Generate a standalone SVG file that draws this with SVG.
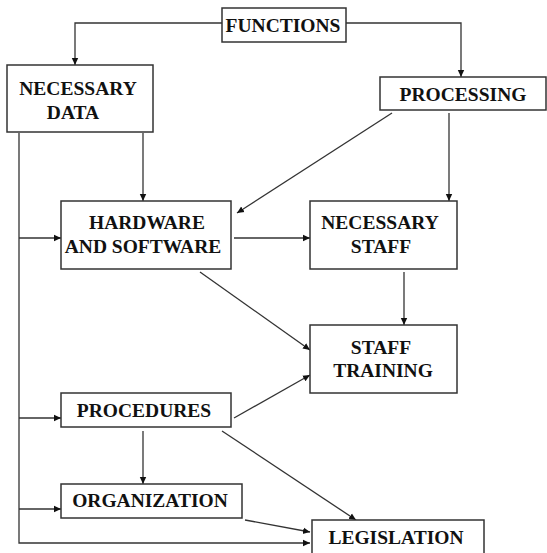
<svg xmlns="http://www.w3.org/2000/svg" width="547" height="553" viewBox="0 0 547 553">
<style>
.box{fill:#fff;stroke:#333;stroke-width:1.5}
.t{font-family:"Liberation Serif","Times New Roman",serif;font-weight:bold;font-size:19.5px;fill:#111;text-anchor:middle}
.c{fill:none;stroke:#333;stroke-width:1.3}
</style>
<defs>
<marker id="ah" markerWidth="8" markerHeight="8" refX="7" refY="4" orient="auto" markerUnits="userSpaceOnUse">
<path d="M0,0.8 L7,4 L0,7.2 Z" fill="#111"/>
</marker>
</defs>
<rect width="547" height="553" fill="#fff"/>
<g id="connectors">
<path class="c" d="M222,23 H75 V65" marker-end="url(#ah)"/>
<path class="c" d="M346,23 H461 V77" marker-end="url(#ah)"/>
<path class="c" d="M392,113 L237,213" marker-end="url(#ah)"/>
<path class="c" d="M449,113 V201" marker-end="url(#ah)"/>
<path class="c" d="M143,133 V201" marker-end="url(#ah)"/>
<path class="c" d="M19,133 V543 H310" marker-end="url(#ah)"/>
<path class="c" d="M19,238 H61" marker-end="url(#ah)"/>
<path class="c" d="M234,238 H310" marker-end="url(#ah)"/>
<path class="c" d="M200,272 L310,350" marker-end="url(#ah)"/>
<path class="c" d="M404,272 V325" marker-end="url(#ah)"/>
<path class="c" d="M19,418 H61" marker-end="url(#ah)"/>
<path class="c" d="M234,418 L310,375" marker-end="url(#ah)"/>
<path class="c" d="M143,431 V484" marker-end="url(#ah)"/>
<path class="c" d="M222,431 L356,520" marker-end="url(#ah)"/>
<path class="c" d="M19,509 H61" marker-end="url(#ah)"/>
<path class="c" d="M245,520 L310,532" marker-end="url(#ah)"/>
</g>
<g id="functions">
<rect class="box" x="222" y="8" width="124" height="34"/>
<text class="t" x="283" y="32">FUNCTIONS</text>
</g>
<g id="necessary-data">
<rect class="box" x="7" y="65" width="146" height="67"/>
<text class="t" x="78" y="95">NECESSARY</text>
<text class="t" x="73" y="119">DATA</text>
</g>
<g id="processing">
<rect class="box" x="380" y="77" width="166" height="33"/>
<text class="t" x="463" y="101">PROCESSING</text>
</g>
<g id="hardware-software">
<rect class="box" x="61" y="201" width="170" height="68"/>
<text class="t" x="147" y="229">HARDWARE</text>
<text class="t" x="143" y="253">AND SOFTWARE</text>
</g>
<g id="necessary-staff">
<rect class="box" x="310" y="201" width="147" height="68"/>
<text class="t" x="380" y="229">NECESSARY</text>
<text class="t" x="381" y="253">STAFF</text>
</g>
<g id="staff-training">
<rect class="box" x="310" y="325" width="147" height="68"/>
<text class="t" x="381" y="354">STAFF</text>
<text class="t" x="383" y="377">TRAINING</text>
</g>
<g id="procedures">
<rect class="box" x="61" y="393" width="170" height="34"/>
<text class="t" x="144" y="417">PROCEDURES</text>
</g>
<g id="organization">
<rect class="box" x="61" y="484" width="181" height="34"/>
<text class="t" x="150" y="507">ORGANIZATION</text>
</g>
<g id="legislation">
<rect class="box" x="312" y="520" width="172" height="40"/>
<text class="t" x="396" y="544">LEGISLATION</text>
</g>
</svg>
